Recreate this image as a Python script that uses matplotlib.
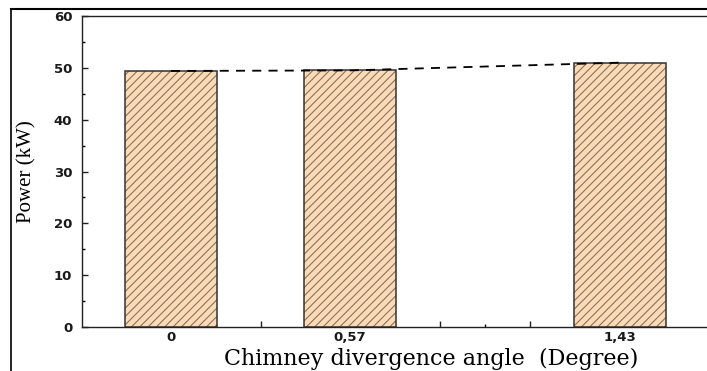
import numpy as np
import matplotlib
matplotlib.use('Agg')
import matplotlib.pyplot as plt
from matplotlib.lines import Line2D
from matplotlib.ticker import MultipleLocator


# chart data
angles = [0, 0.57, 1.43]
power = [49.4, 49.5, 51.0]
tick_pos = [0, 0.286, 0.57, 0.858, 1.144, 1.43]
tick_labels = ['0', '', '0,57', '', '', '1,43']

plt.rcParams['hatch.linewidth'] = 0.8

fig = plt.figure(figsize=(7.07, 3.71), dpi=100)

# axes runs off the right edge like the original
ax = fig.add_axes([82/707, 1 - 327/371, (725 - 82)/707, (327 - 16)/371])

# hatched fill first, then the outline on top
ax.bar(angles, power, width=0.29, color='#FCDAB6', edgecolor='#857361',
       hatch='////', linewidth=0, zorder=2)
ax.bar(angles, power, width=0.29, fill=False, edgecolor='#333333',
       linewidth=1.1, zorder=3)

# dashed trend line through the bar tops
ax.plot(angles, power, color='black', linewidth=1.3, dashes=(5, 4), zorder=4)

ax.set_ylim(0, 60)
ax.set_xlim((82 - 171)/314, (725 - 171)/314)
ax.yaxis.set_major_locator(MultipleLocator(10))
ax.yaxis.set_minor_locator(MultipleLocator(5))
ax.set_xticks(tick_pos)
ax.set_xticklabels(tick_labels)
ax.set_xticks([0.143, 0.429, 0.714, 1.001, 1.287], minor=True)

for sp in ax.spines.values():
    sp.set_linewidth(1.0)
    sp.set_color('#222222')
ax.spines['right'].set_visible(False)

ax.tick_params(axis='both', which='major', direction='in', length=4,
               width=1.0, labelsize=9.5, colors='#222222')
ax.tick_params(axis='both', which='minor', direction='in', length=2.2, width=1.0)
ax.tick_params(axis='y', which='major', pad=7)
ax.tick_params(axis='x', which='major', pad=3)
ax.tick_params(top=False, right=False)
for lab in ax.get_xticklabels() + ax.get_yticklabels():
    lab.set_family('DejaVu Sans')
    lab.set_weight('bold')
    lab.set_color('#1a1a1a')

ax.set_ylabel('Power (kW)', family='Liberation Serif', fontsize=15)
ax.yaxis.set_label_coords(-(82 - 36)/(725 - 82), 0.5)
ax.set_xlabel('Chimney divergence angle  (Degree)', family='DejaVu Serif',
              fontsize=16)
ax.xaxis.label.set_va('baseline')
ax.xaxis.set_label_coords((431 - 82)/(725 - 82), -(365 - 327)/311)

# outer frame lines (top and left of the pasted figure)
fig.add_artist(Line2D([11/707, 11/707], [0, 1 - 9/371], color='black',
                      linewidth=1.2, transform=fig.transFigure))
fig.add_artist(Line2D([11/707, 1], [1 - 9/371, 1 - 9/371], color='black',
                      linewidth=1.5, transform=fig.transFigure))

plt.savefig('out.png', dpi=100)
